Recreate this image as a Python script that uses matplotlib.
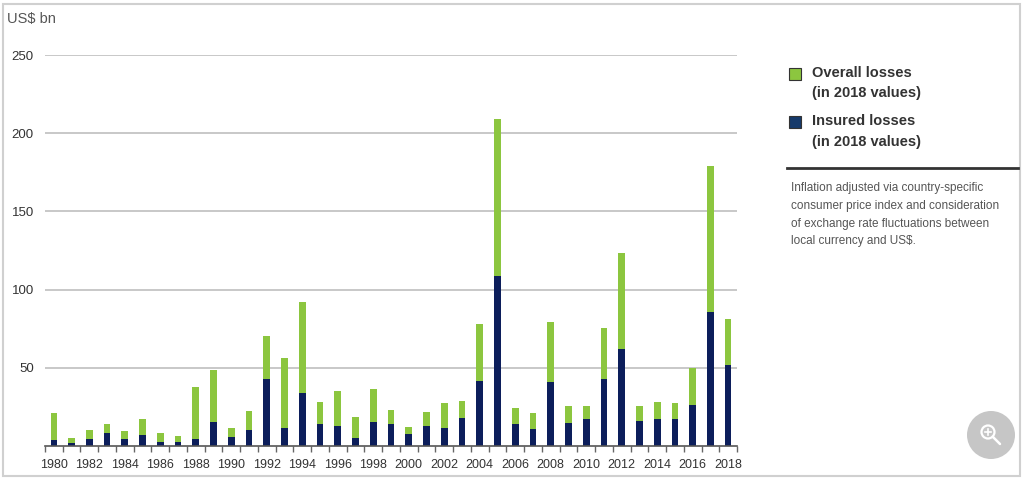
import matplotlib.pyplot as plt
from matplotlib.patches import Rectangle, Circle
import numpy as np

plt.rcParams['font.family'] = ['Liberation Sans', 'DejaVu Sans']

# Datos (US$ bn, valores 2018)
years = list(range(1980, 2019))
overall = [21, 5.3, 10, 14.3, 9.4, 17.2, 8.1, 6.4, 37.9, 48.3,
           11.5, 22.1, 70.4, 56, 92.2, 27.9, 35.3, 18.7, 36.4, 22.8,
           12.1, 21.9, 27.7, 28.9, 77.9, 208.8, 24.1, 20.9, 79.4, 25.7,
           25.7, 75.4, 123.2, 25.7, 28.3, 27.7, 49.6, 178.8, 80.9]
insured = [3.6, 2.1, 4.3, 8.1, 4.3, 7.0, 2.4, 2.4, 4.3, 15.3,
           5.5, 10.2, 42.8, 11.3, 34.1, 14, 12.8, 4.9, 15.3, 13.8,
           7.4, 12.8, 11.7, 17.9, 41.7, 108.8, 14, 11.1, 41.1, 14.5,
           17.4, 42.8, 62.2, 16, 17.4, 17.0, 26.4, 85.6, 51.7]
y_ticks = [50, 100, 150, 200, 250]
x_labels = [y for y in years if y % 2 == 0]

verde = '#8cc63f'
azul = '#0c1e5b'

W, H = 1024, 478
fig = plt.figure(figsize=(W / 100, H / 100), dpi=100)
ax = fig.add_axes([45 / W, 1 - 446 / H, (737 - 45) / W, (446 - 55) / H])

x = np.array(years)
ins = np.array(insured)
tot = np.array(overall)
ax.bar(x, ins, width=0.38, color=azul, zorder=3)
ax.bar(x, tot - ins, bottom=ins, width=0.38, color=verde, zorder=3)

ax.set_xlim(1979.5, 2018.5)
ax.set_ylim(0, 250)
for v in y_ticks:
    ax.axhline(v, color='#c8c8c8', lw=1.4, zorder=1)
ax.set_yticks(y_ticks)
ax.tick_params(axis='y', length=0, pad=8, labelsize=9.5, labelcolor='#333333')

ax.set_xticks(x_labels)
ax.set_xticks(np.arange(1979.5, 2019, 1), minor=True)
ax.tick_params(axis='x', which='major', length=0, pad=9, labelsize=9, labelcolor='#333333')
ax.tick_params(axis='x', which='minor', length=4, width=1, color='#666666')

for s in ['top', 'right', 'left']:
    ax.spines[s].set_visible(False)
ax.spines['bottom'].set_color('#555555')
ax.spines['bottom'].set_linewidth(1.2)
ax.spines['bottom'].set_zorder(4)

# capa para textos y decoracion en pixeles
ov = fig.add_axes([0, 0, 1, 1], facecolor='none')
ov.set_xlim(0, W)
ov.set_ylim(H, 0)
ov.axis('off')

ov.add_patch(Rectangle((3, 4), 1017, 472, fill=False, ec='#d0d0d0', lw=1.5))
ov.text(7, 19, 'US$ bn', fontsize=10.5, color='#555555', va='center', ha='left')

ov.add_patch(Rectangle((789, 68), 12, 12, fc=verde, ec='#333333', lw=0.8))
ov.add_patch(Rectangle((789, 116), 12, 12, fc='#163a6b', ec='#333333', lw=0.8))
leg = [('Overall losses', 73), ('(in 2018 values)', 93),
       ('Insured losses', 121), ('(in 2018 values)', 142)]
for t, yy in leg:
    ov.text(812, yy, t, fontsize=10.5, fontweight='bold', color='#333333',
            va='center', ha='left')

ov.plot([787, 1018], [168, 168], color='#333333', lw=2)
nota = ['Inflation adjusted via country-specific',
        'consumer price index and consideration',
        'of exchange rate fluctuations between',
        'local currency and US$.']
for i, t in enumerate(nota):
    ov.text(791, 188 + i * 17.8, t, fontsize=8.5, color='#555555',
            va='center', ha='left')

# icono de lupa
ov.add_patch(Circle((991, 435), 24, fc='#c6c6c6', ec='none'))
ov.add_patch(Circle((988, 432), 6.5, fill=False, ec='white', lw=1.6))
ov.plot([992.6, 1000], [436.6, 444], color='white', lw=1.8, solid_capstyle='round')
ov.plot([985, 991], [432, 432], color='white', lw=1.2)
ov.plot([988, 988], [429, 435], color='white', lw=1.2)

fig.savefig('out.png', dpi=100, facecolor='white')
